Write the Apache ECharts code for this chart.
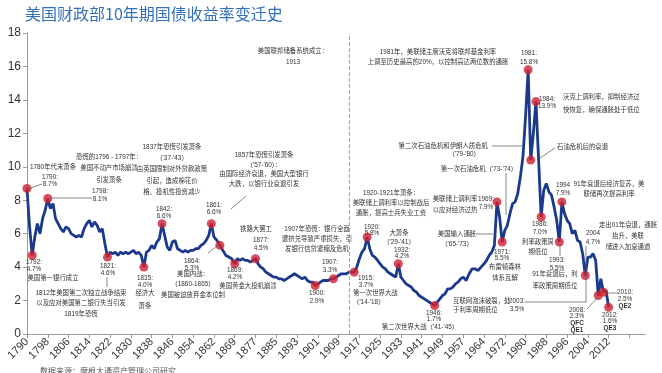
<!DOCTYPE html>
<html>
<head>
<meta charset="utf-8">
<script src="https://cdn.jsdelivr.net/npm/echarts@6/dist/echarts.min.js"></script>
<style>html,body{margin:0;padding:0;background:#fff}#c{width:662px;height:373px}</style>
</head>
<body>
<div id="c"></div>
<script>
// ---------------- DATA ----------------
const title = '美国财政部10年期国债收益率变迁史';
const tickLabels = ['1790','1798','1806','1814','1822','1830','1838','1846','1854','1862','1869','1877','1885','1893','1901','1909','1917','1925','1933','1941','1949','1957','1964','1972','1980','1988','1996','2004','2012'];
const yTicks = [0,2,4,6,8,10,12,14,16,18];
const startYear = 1790;
// yields, one value per year
const yields1790_1849 = [8.7,6.4,4.7,5.8,6.6,6.0,6.9,7.4,8.1,7.5, 7.8,6.9,6.6,6.3,6.1,6.4,6.3,6.0,5.9,5.8, 5.9,5.8,6.3,6.6,6.8,6.4,6.7,6.5,6.1,6.3, 5.4,4.6,4.9,4.8,4.9,4.7,4.9,4.8,4.9,4.8, 4.9,5.0,4.8,4.9,4.7,4.0,4.9,5.0,5.3,5.1, 5.5,5.7,6.6,5.9,5.2,5.0,5.5,5.6,5.1,5.0];
const yields1850_1909 = [4.9,5.0,4.9,5.0,5.0,5.1,5.1,5.3,5.4,5.6, 5.9,6.6,5.8,5.6,5.3,5.0,4.7,4.6,4.5,4.2, 4.5,4.4,4.5,4.4,4.4,4.3,4.4,4.5,4.2,4.0, 3.9,3.7,3.6,3.5,3.4,3.4,3.3,3.3,3.2,3.3, 3.4,3.5,3.6,3.5,3.4,3.3,3.4,3.2,3.1,3.1, 2.9,3.0,3.1,3.2,3.2,3.2,3.3,3.3,3.4,3.5];
const yields1910_1969 = [3.6,3.6,3.6,3.7,3.7,3.7,4.0,4.5,4.9,5.1, 5.8,5.1,4.7,4.6,4.4,4.2,4.0,3.9,3.7,3.6, 3.5,3.4,4.2,3.4,3.2,3.0,2.9,2.8,2.6,2.5, 2.3,2.2,2.1,2.0,1.9,1.8,1.7,1.9,2.1,2.3, 2.4,2.7,2.7,2.8,3.0,3.1,3.3,3.4,3.2,3.6, 3.9,3.9,3.8,4.0,4.2,4.4,4.7,4.9,5.3,7.9];
const yields1970_2012 = [7.0,5.5,6.2,6.5,7.2,7.8,7.9,8.4,9.4,10.6, 13.0,15.8,10.4,12.0,13.9,10.5,7.0,8.6,9.0,8.5, 8.3,7.6,6.8,5.5,7.9,7.2,6.8,6.6,6.0,6.2, 5.6,5.5,4.8,3.5,4.6,4.6,4.8,4.4,2.3,3.3, 2.5,2.6,1.6];
const markedYears = [1790,1792,1798,1821,1835,1842,1861,1864,1869,1877,1900,1907,1915,1920,1932,1946,1969,1971,1981,1982,1984,1986,1993,1994,2003,2008,2010,2012];
const fedYear = 1913;

// ---------------- LAYOUT (annotations, pixel positions) ----------------
// [text, x, firstLineCenterY, lineHeight, align, bold]
const notes = [
 ['1780年代末萧条', 53, 167, 10, 'center'],
 ['1790:\n8.7%', 50, 177, 7, 'center'],
 ['1798:\n8.1%', 100, 191, 8, 'center'],
 ['1792:\n4.7%', 34, 262, 7, 'center'],
 ['美国第一银行成立', 53, 278, 10, 'center'],
 ['1812年美国第二次独立战争结束\n以及应对美国第二银行失当引发\n1819年恐慌', 81, 293, 10.5, 'center'],
 ['1821:\n4.6%', 108, 266, 7, 'center'],
 ['恐慌的1796 - 1797年：\n美国不动产市场崩溃\n引发萧条', 109, 157, 11.5, 'center'],
 ['1837年恐慌引发萧条\n（\'37-\'43）\n由英国限制对外贷款政策\n引起，造成棉花价\n格、投机性投资减少', 172, 147, 11.3, 'center'],
 ['1835:\n4.0%', 145, 278, 7.3, 'center'],
 ['经济大\n萧条', 145, 293, 13.5, 'center'],
 ['1842:\n6.6%', 164, 209, 7, 'center'],
 ['1864:\n5.3%', 192, 261, 7, 'center'],
 ['美国内战：\n（1860-1865）\n美国被迫放弃金本位制', 193, 274, 10.5, 'center'],
 ['1861:\n6.6%', 214, 205, 7.5, 'center'],
 ['1857年恐慌引发萧条\n（\'57-\'60）：\n由国际经济衰退，美国大型银行\n大跌，以银行业衰退引发', 264, 155, 9.8, 'center'],
 ['1869:\n4.2%', 235, 270, 7.5, 'center'],
 ['美国黄金大投机崩溃', 248, 286, 10, 'center'],
 ['铁路大罢工', 256, 229, 10, 'center'],
 ['1877:\n4.5%', 261, 240, 8, 'center'],
 ['1907年恐慌：银行全面\n遭挤兑导致严重损失，引\n发银行信贷紧缩及危机', 317, 229, 10, 'center'],
 ['1900:\n2.9%', 317, 293, 8, 'center'],
 ['1907:\n3.3%', 330, 262, 8, 'center'],
 ['1915:\n3.7%', 366, 278, 7, 'center'],
 ['第一次世界大战\n（\'14-\'18）', 353, 293, 9, 'left'],
 ['1920:\n5.8%', 372, 227, 6.5, 'center'],
 ['1920-1921年萧条：\n美联储上调利率以控制战后\n通胀，提高士兵失业工资', 391, 193, 10, 'center'],
 ['大萧条\n（\'29-\'41）', 399, 233, 9, 'center'],
 ['1932:\n4.2%', 402, 250, 6.5, 'center'],
 ['第二次世界大战（\'41-\'45）', 420, 327, 10, 'center'],
 ['1946:\n1.7%', 434, 313, 6.5, 'center'],
 ['互联网泡沫破裂，处\n于利率周期低位', 453, 301, 9.5, 'left'],
 ['2003:\n3.5%', 517, 301, 8, 'center'],
 ['美国输入通胀\n（\'65-\'73）', 457, 234, 10, 'center'],
 ['1971:\n5.5%', 502, 252, 6, 'center'],
 ['布雷顿森林\n体系瓦解', 505, 267, 11, 'center'],
 ['美联储上调利率\n以应对经济过热', 455, 199, 11, 'center'],
 ['1969:\n7.9%', 486, 199, 8, 'center'],
 ['第一次石油危机（\'73-\'74）', 479, 169, 10, 'center'],
 ['第二次石油危机和伊朗人质危机', 488, 146, 10, 'right'],
 ['（\'79-\'80）', 480, 154, 10, 'right'],
 ['1981:\n15.8%', 529, 53, 9, 'center'],
 ['1984:\n13.9%', 547, 99, 7, 'center'],
 ['沃克上调利率，抑制经济过\n快恢复，确保通胀处于低位', 563, 97, 13, 'left'],
 ['石油危机后的衰退', 557, 147, 10, 'left'],
 ['1981年，美联储主席沃克将联邦基金利率\n上调至历史最高的20%，以控制高达两位数的通胀', 438, 52, 10, 'center'],
 ['1986:\n7.0%', 540, 224, 8, 'center'],
 ['利率政策周\n期低位', 538, 242, 10, 'center'],
 ['1993:\n5.5%', 557, 260, 8, 'center'],
 ['91年衰退后，利\n率政策周期低位', 555, 274, 12, 'center'],
 ['1994\n7.9%', 563, 185, 8, 'center'],
 ['91年衰退后经济复苏，美\n联储再次提高利率', 609, 184, 10, 'center'],
 ['走出01年衰退，通胀\n抬升，美联\n储进入加息通道', 628, 225, 11, 'center'],
 ['2004\n4.7%', 593, 233, 9, 'center'],
 ['2008:\n2.3%', 577, 310, 6.7, 'center'],
 ['QFC\nQE1', 577, 323.4, 6.7, 'center', true],
 ['2010:\n2.5%', 625, 292, 7, 'center'],
 ['QE2', 625, 306, 7, 'center', true],
 ['2012:\n1.6%', 610, 315, 6.7, 'center'],
 ['QE3', 610, 328.5, 7, 'center', true],
 ['美国联邦储备系统成立：', 293, 51, 10, 'center'],
 ['1913', 293, 62, 10, 'center']
];
const leaders = [
 [[28,189],[42,184]],
 [[50,198],[92,198]],
 [[107,277],[107,287]],
 [[218,245],[208,253]],
 [[231,209],[246,196]],
 [[476,234],[493,234]],
 [[506,173],[506,215]],
 [[492,146],[522,146]],
 [[555,148],[540,158]],
 [[525,302],[586,302],[586,246]],
 [[598,297],[587,309]],
 [[606,293],[617,293]],
 [[560,244],[560,256]]
];

// ---------------- BUILD ----------------
const allYields = yields1790_1849.concat(yields1850_1909, yields1910_1969, yields1970_2012);
const tickYears = tickLabels.map(Number);
function pos(year){
  for (let k = 0; k < tickYears.length - 1; k++) {
    if (year >= tickYears[k] && year <= tickYears[k+1]) {
      return 8*k + 8*(year - tickYears[k])/(tickYears[k+1]-tickYears[k]);
    }
  }
  return 8*(tickYears.length-1) + (year - tickYears[tickYears.length-1]);
}
const lineData = allYields.map((v,i)=>[pos(startYear+i), v]);
const dotData = markedYears.map(y=>[pos(y), allYields[y-startYear]]);

const FONT = '"Liberation Sans","Noto Sans CJK SC",sans-serif';
const graphics = [];
graphics.push({type:'text', left:25, top:6, style:{text:title, font:'16px "Noto Sans CJK SC"', fill:'#3270b8'}});
notes.forEach(n=>{
  const [t,x,y,lh,al,b] = n;
  graphics.push({type:'text', x:0, y:0, z:10, silent:true, style:{
    text:t, x:x, y:y-lh/2, font:(b?'bold ':'')+'6.4px '+FONT, fill:'#333',
    align:al, textAlign:al, verticalAlign:'top', textVerticalAlign:'top', lineHeight:lh
  }});
});
leaders.forEach(p=>{
  graphics.push({type:'polyline', z:9, silent:true, shape:{points:p}, style:{stroke:'#555', lineWidth:0.7, fill:null}});
});
graphics.push({type:'text', left:40, top:367, style:{text:'数据来源：摩根大通资产管理公司研究', font:'8px "Noto Sans CJK SC"', fill:'#555'}});

const chart = echarts.init(document.getElementById('c'), null, {renderer:'canvas'});
chart.setOption({
  animation:false,
  backgroundColor:'#fff',
  grid:{left:27, right:17, top:33, bottom:39, containLabel:false},
  xAxis:{type:'value', min:0, max:238, interval:8,
    axisLine:{lineStyle:{color:'#9a9a9a'}},
    axisTick:{show:true, length:4, lineStyle:{color:'#9a9a9a'}},
    splitLine:{show:false},
    axisLabel:{rotate:45, fontSize:11, color:'#333', fontFamily:'Liberation Sans', margin:6,
      showMaxLabel:false,
      formatter:v=>{const k=v/8; return Number.isInteger(k)&&tickLabels[k]?tickLabels[k]:'';}}
  },
  yAxis:{type:'value', min:yTicks[0], max:yTicks[yTicks.length-1], interval:2,
    axisLine:{show:true, lineStyle:{color:'#9a9a9a'}},
    axisTick:{show:true, length:4, lineStyle:{color:'#9a9a9a'}},
    splitLine:{show:false},
    axisLabel:{fontSize:12, color:'#333', fontFamily:'Liberation Sans', margin:6}
  },
  series:[
    {type:'line', data:lineData, showSymbol:false, lineStyle:{color:'#1b3a8c', width:2.8}, z:3,
     markLine:{silent:true, symbol:'none', label:{show:false},
       lineStyle:{type:'dashed', color:'#8aa8d8', width:1},
       data:[{xAxis:pos(fedYear)}]}},
    {type:'scatter', data:dotData, symbolSize:9, itemStyle:{color:'#cf1f2f'}, z:5}
  ],
  graphic:graphics
});
</script>
</body>
</html>
